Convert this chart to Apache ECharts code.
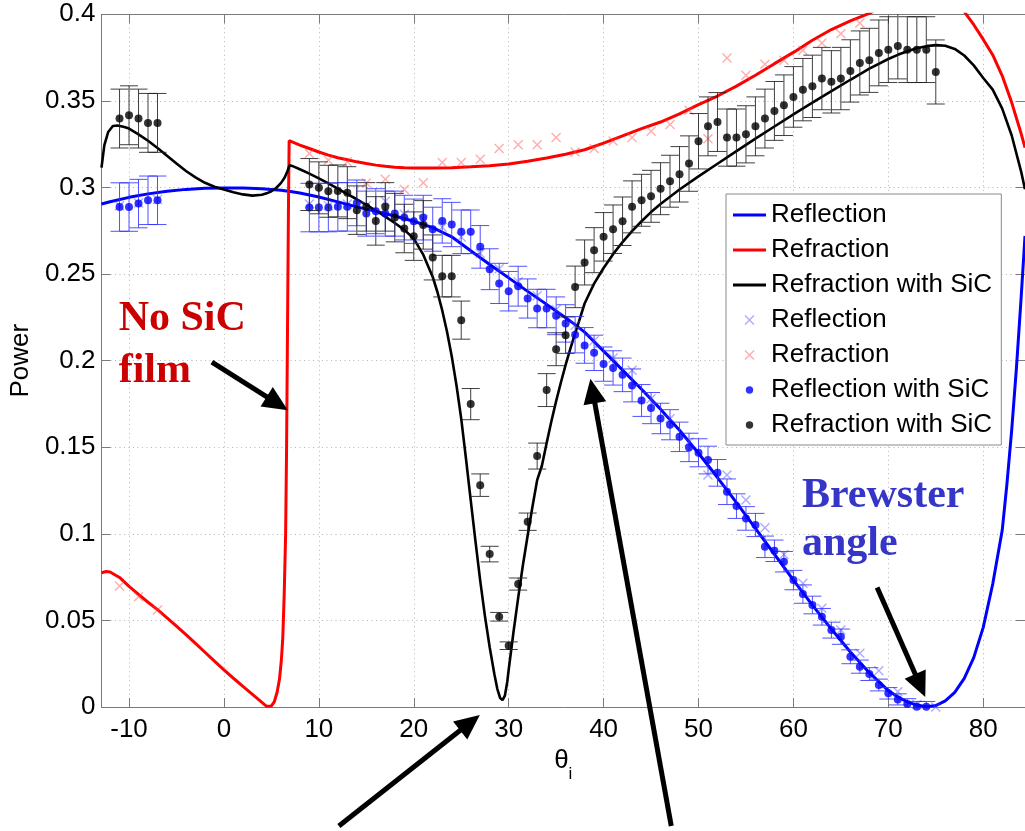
<!DOCTYPE html>
<html>
<head>
<meta charset="utf-8">
<script src="https://cdn.jsdelivr.net/npm/echarts@6/dist/echarts.min.js"></script>
<style>
  html, body { margin: 0; padding: 0; background: #ffffff; }
  #chart { width: 1025px; height: 831px; }
</style>
</head>
<body>
<div id="chart"></div>
<script>
// ---------- theory curves: [angle of incidence (deg), power] ----------
const reflectionCurve = [
  [-12.9,0.2905],[-12,0.2918],[-10,0.2943],[-8,0.2963],[-6,0.2978],[-4,0.2989],[-2,0.2995],
  [0,0.2997],[2,0.2997],[4,0.2993],[6,0.2984],[7,0.2977],[8,0.2968],[10,0.2945],[12,0.2917],
  [14,0.2888],[16,0.2862],[18,0.2835],[20,0.2805],[22,0.2768],[24,0.2715],[26,0.2635],
  [28,0.2555],[30,0.2478],[32,0.24],[34,0.2325],[36,0.2248],[37,0.2208],[38,0.2165],
  [40,0.2055],[42,0.1945],[44,0.1835],[46,0.172],[48,0.1598],[50,0.1465],[52,0.1325],
  [54,0.118],[56,0.1032],[58,0.0882],[60,0.0733],[62,0.0588],[64,0.045],[66,0.0318],
  [68,0.0198],[70,0.0095],[71,0.0058],[72,0.003],[73,0.0011],[74,0.0002],[75,0.0008],
  [76,0.0035],[77,0.0085],[78,0.0165],[79,0.0285],[80,0.046],[81,0.071],[82,0.102],
  [82.5,0.129],[83,0.16],[83.5,0.196],[84,0.237],[84.4,0.272]
];

const refractionCurve = [
  [-12.9,0.0775],[-12.4,0.0782],[-12,0.078],[-11,0.0748],[-10,0.0697],[-9,0.065],[-8,0.0605],
  [-7,0.0562],[-6,0.0515],[-5,0.0467],[-4,0.0418],[-3,0.0367],[-2,0.0316],[-1,0.0265],
  [0,0.0214],[1,0.0166],[2,0.0119],[3,0.0073],[4,0.0027],[4.5,0.0004],[5,0.0006],[5.3,0.003],
  [5.6,0.0085],[5.85,0.016],[6.05,0.027],[6.2,0.04],[6.35,0.065],[6.5,0.1],[6.6,0.15],
  [6.7,0.22],[6.8,0.29],[6.87,0.327],[7,0.3266],[8,0.3245],[9,0.3225],[10,0.3205],
  [11,0.3187],[12,0.3172],[13,0.316],[14,0.3148],[15,0.3138],[16,0.3129],[17,0.3122],
  [18,0.3117],[19,0.3114],[20,0.3113],[22,0.3112],[24,0.3114],[26,0.3119],[28,0.3126],
  [30,0.3136],[32,0.3151],[34,0.317],[36,0.3192],[38,0.3218],[40,0.3256],[42,0.3298],
  [44,0.334],[46,0.3378],[48,0.3425],[50,0.3478],[52,0.3528],[54,0.3585],[56,0.3648],
  [58,0.3715],[60,0.378],[62,0.385],[64,0.3912],[66,0.3962],[68,0.4005],[70,0.4065],
  [72,0.412],[74,0.415],[76,0.412],[77,0.407],[78,0.4015],[79,0.394],[80,0.3855],
  [81,0.3765],[82,0.3645],[83,0.349],[84,0.331],[84.4,0.323]
];

const refractionSiCCurve = [
  [-12.9,0.3115],[-12.6,0.3245],[-12.2,0.332],[-11.7,0.3355],[-11.2,0.3358],[-10.5,0.3349],
  [-10,0.334],[-9,0.3307],[-8,0.327],[-7,0.3228],[-6,0.3183],[-5,0.3138],[-4,0.3095],
  [-3,0.3058],[-2,0.3027],[-1,0.3004],[0,0.2988],[1,0.2972],[2,0.296],[3,0.2953],[4,0.2958],
  [4.5,0.2966],[5,0.2978],[5.5,0.2997],[6,0.3025],[6.4,0.3058],[6.7,0.3095],[6.9,0.3128],
  [7.3,0.3122],[8,0.3105],[9,0.308],[10,0.3053],[11,0.3024],[12,0.2993],[13,0.2962],
  [14,0.2932],[15,0.29],[16,0.2867],[17,0.2832],[18,0.2795],[19,0.2755],[20,0.2705],
  [21,0.2612],[22,0.2483],[22.5,0.2395],[23,0.229],[23.5,0.2168],[24,0.2025],[24.5,0.1858],
  [25,0.1665],[25.5,0.1435],[26,0.1195],[26.5,0.0958],[27,0.073],[27.5,0.0525],[28,0.0345],
  [28.5,0.0188],[28.8,0.0105],[29.1,0.0052],[29.35,0.004],[29.6,0.0065],[29.85,0.0145],
  [30,0.0215],[30.5,0.043],[31,0.063],[31.5,0.082],[32,0.099],[32.5,0.1155],[33,0.131],
  [33.5,0.1393],[34,0.1524],[34.5,0.165],[35,0.1766],[35.5,0.1874],[36,0.1976],[36.5,0.2069],
  [37,0.2157],[37.4,0.2225],[38,0.233],[39,0.2445],[40,0.2535],[41,0.2615],[42,0.2685],
  [43,0.2748],[44,0.2805],[45,0.2858],[46,0.2905],[48,0.2988],[50,0.3064],[52,0.3137],
  [54,0.321],[56,0.3282],[58,0.3352],[60,0.3422],[62,0.349],[64,0.3556],[66,0.3622],
  [68,0.3686],[70,0.3742],[71,0.3766],[72,0.3787],[73,0.3804],[74,0.3816],[75,0.3822],
  [76,0.3818],[77,0.38],[78,0.3762],[79,0.3705],[80,0.3632],[81,0.3565],[82,0.3455],
  [83,0.33],[84,0.309],[84.4,0.299]
];

// ---------- measurements without SiC: [angle, power] ----------
const reflectionData = [
  [-11,0.2895],[-9,0.291],[-7,0.293],
  [9,0.2905],[11,0.2895],[13,0.2905],[15,0.2895],[17,0.292],[19,0.2845],[21,0.2815],
  [23,0.277],[25,0.2714],[27,0.262],[29,0.253],[31,0.2455],[33,0.2375],[35,0.2295],
  [37,0.2205],[39,0.2115],[41,0.2015],[43,0.1945],[45,0.178],[47,0.1665],[49,0.153],
  [51,0.1339],[53,0.1339],[55,0.1195],[57,0.1035],[59,0.088],[61,0.0714],[63,0.057],
  [65,0.0444],[67,0.031],[69,0.0209],[71,0.0088],[73,0.0015],[75,0]
];

const refractionData = [
  [-11,0.0698],[-9,0.0637],[-7,0.056],
  [9,0.3196],[11,0.3157],[13,0.3148],[15,0.3026],[17,0.3048],[19,0.2988],[21,0.3028],
  [23,0.3144],[25,0.3144],[27,0.3163],[29,0.3225],[31,0.3247],[33,0.3247],[35,0.3288],
  [37,0.3205],[39,0.3225],[41,0.3269],[43,0.3288],[45,0.3325],[47,0.3363],[49,0.3446],
  [51,0.3282],[53,0.3748],[55,0.3648],[57,0.3711],[59,0.3735],[61,0.3792],[63,0.3834],
  [65,0.3888],[67,0.395]
];

// ---------- measurements with SiC film: [angle, power, error] ----------
const reflectionSiCData = [
  [-11,0.2887,0.014],[-10,0.2887,0.014],[-9,0.2907,0.014],[-8,0.2926,0.014],[-7,0.2926,0.014],
  [9,0.2884,0.014],[10,0.2884,0.014],[11,0.2884,0.014],[12,0.2888,0.014],[13,0.2888,0.014],
  [14,0.2911,0.0132],[15,0.2849,0.013],[16,0.2863,0.013],[17,0.2849,0.013],[18,0.2849,0.013],
  [19,0.2826,0.0129],[20,0.2805,0.0128],[21,0.2826,0.0129],[22,0.2759,0.0127],[23,0.2807,0.0128],
  [24,0.2786,0.0128],[25,0.2744,0.0126],[26,0.2744,0.0126],[27,0.2657,0.0123],[28,0.2528,0.0118],
  [29,0.2446,0.0116],[30,0.2401,0.0114],[31,0.243,0.0115],[32,0.2359,0.0113],[33,0.2301,0.0111],
  [34,0.2301,0.0111],[35,0.2259,0.0109],[36,0.2215,0.0108],[37,0.215,0.0105],[38,0.2088,0.0103],
  [39,0.2045,0.0102],[40,0.198,0.0099],[41,0.1958,0.0099],[42,0.1918,0.0097],[43,0.1857,0.0095],
  [44,0.177,0.0092],[45,0.1726,0.009],[46,0.1666,0.0088],[47,0.163,0.0087],[48,0.156,0.0085],
  [49,0.1499,0.0082],[50,0.1468,0.0081],[51,0.1426,0.008],[52,0.1352,0.0077],[53,0.1243,0.0074],
  [54,0.116,0.0071],[55,0.1089,0.0068],[56,0.1051,0.0067],[57,0.0925,0.0062],[58,0.0902,0.0062],
  [59,0.0839,0.0059],[60,0.0733,0.0056],[61,0.0652,0.0053],[62,0.0589,0.0051],[63,0.0521,0.0048],
  [64,0.0444,0.0046],[65,0.0406,0.0044],[66,0.029,0.004],[67,0.0233,0.0038],[68,0.019,0.0037],
  [69,0.0127,0.0034],[70,0.0079,0.0033],[71,0.0044,0.0032],[72,0.0017,0.0031],[73,0.0002,0.003],
  [74,0.0002,0.003]
];

const refractionSiCData = [
  [-11,0.3398,0.017],[-10,0.3417,0.017],[-9,0.3398,0.017],[-8,0.3373,0.017],[-7,0.3373,0.017],
  [9,0.3017,0.015],[10,0.2998,0.015],[11,0.2978,0.015],[12,0.298,0.015],[13,0.297,0.015],
  [14,0.2869,0.014],[15,0.2888,0.014],[16,0.2807,0.014],[17,0.2888,0.014],[18,0.2826,0.014],
  [19,0.2763,0.014],[20,0.2719,0.014],[21,0.2784,0.014],[22,0.2596,0.013],[23,0.2488,0.012],
  [24,0.2488,0.012],[25,0.2234,0.011],[26,0.1749,0.009],[27,0.1281,0.0065],[28,0.0883,0.0045],
  [29,0.0521,0.0025],[30,0.0354,0.0022],[31,0.071,0.0035],[32,0.107,0.005],[33,0.1449,0.0075],
  [34,0.183,0.0095],[35,0.2066,0.0095],[36,0.2147,0.0105],[37,0.2426,0.012],[38,0.2567,0.013],
  [39,0.2638,0.013],[40,0.2715,0.014],[41,0.2759,0.014],[42,0.2805,0.014],[43,0.2888,0.015],
  [44,0.2926,0.015],[45,0.2949,0.015],[46,0.2993,0.015],[47,0.3036,0.015],[48,0.3076,0.016],
  [49,0.3138,0.016],[50,0.3267,0.016],[51,0.3353,0.017],[52,0.3378,0.017],[53,0.3288,0.0165],
  [54,0.3288,0.0165],[55,0.3307,0.0165],[56,0.3353,0.017],[57,0.3398,0.017],[58,0.3442,0.017],
  [59,0.3475,0.0175],[60,0.3523,0.0175],[61,0.3565,0.018],[62,0.3584,0.018],[63,0.3629,0.018],
  [64,0.361,0.018],[65,0.3629,0.018],[66,0.3673,0.018],[67,0.3719,0.0185],[68,0.3734,0.0185],
  [69,0.3777,0.019],[70,0.3796,0.019],[71,0.3817,0.019],[72,0.3796,0.019],[73,0.3796,0.019],
  [74,0.3796,0.019],[75,0.3667,0.0185]
];

// ---------- annotations, in data coordinates ----------
const arrows = [
  { tail: [-1.27, 0.1991], tip: [6.73, 0.1714] },
  { tail: [12.11, -0.0687], tip: [26.96, -0.0046] },
  { tail: [47.13, -0.0687], tip: [38.61, 0.1896] },
  { tail: [68.82, 0.069], tip: [73.89, 0.0058] }
];
const notes = [
  { text: 'No SiC', at: [-11.09, 0.224], color: '#cc0000' },
  { text: 'film', at: [-11.09, 0.194], color: '#cc0000' },
  { text: 'Brewster', at: [60.9, 0.1218], color: '#3535c8' },
  { text: 'angle', at: [60.9, 0.0938], color: '#3535c8' }
];

// ---------- drawing ----------
const FONT = '"Liberation Sans", Arial, Helvetica, sans-serif';
const CROSS = 'path://M0,10L10,0L50,40L90,0L100,10L60,50L100,90L90,100L50,60L10,100L0,90L40,50Z';
const DOT_ICON = 'path://M0,0M10,10M1.3,5A3.7,3.7,0,1,0,8.7,5A3.7,3.7,0,1,0,1.3,5Z';
const LINE_ICON = 'path://M0,0L33,0L33,3L0,3Z';

function errorBars(color) {
  return function (params, api) {
    const x = api.value(0), y = api.value(1), e = api.value(2);
    const hi = api.coord([x, y + e]);
    const lo = api.coord([x, y - e]);
    const cap = 9;
    const style = { stroke: color, lineWidth: 1, fill: null };
    return {
      type: 'group',
      children: [
        { type: 'line', shape: { x1: hi[0], y1: hi[1], x2: lo[0], y2: lo[1] }, style: style },
        { type: 'line', shape: { x1: hi[0] - cap, y1: hi[1], x2: hi[0] + cap, y2: hi[1] }, style: style },
        { type: 'line', shape: { x1: lo[0] - cap, y1: lo[1], x2: lo[0] + cap, y2: lo[1] }, style: style }
      ]
    };
  };
}

const axisGray = '#7a7a7a';
const gridDots = { color: '#b4b4b4', width: 1, type: [1, 3.5] };
const xCommon = { type: 'value', min: -12.9, max: 84.4, splitNumber: 10 };
const yCommon = { type: 'value', min: 0, max: 0.4, interval: 0.05 };

const option = {
  animation: false,
  backgroundColor: '#ffffff',
  textStyle: { fontFamily: FONT },
  grid: { left: 95.7, top: 14.3, width: 930.9, height: 692.7, containLabel: false },
  xAxis: [
    Object.assign({}, xCommon, {
      position: 'bottom',
      name: '{t|θ}{s|i}',
      nameLocation: 'middle',
      nameGap: 36,
      nameTextStyle: {
        color: '#000',
        rich: {
          t: { fontSize: 26, fontFamily: FONT, color: '#000', verticalAlign: 'bottom', padding: [0, 0, 9, 0] },
          s: { fontSize: 17, fontFamily: FONT, color: '#000', verticalAlign: 'bottom' }
        }
      },
      axisLine: { show: true, onZero: false, lineStyle: { color: axisGray, width: 1 } },
      axisTick: { show: true, inside: true, length: 9, lineStyle: { color: axisGray } },
      axisLabel: { fontSize: 26, color: '#000', margin: 10, showMinLabel: false, showMaxLabel: false, fontFamily: FONT },
      splitLine: { show: true, lineStyle: gridDots }
    }),
    Object.assign({}, xCommon, {
      position: 'top',
      axisLine: { show: true, onZero: false, lineStyle: { color: axisGray, width: 1 } },
      axisTick: { show: true, inside: true, length: 9, lineStyle: { color: axisGray } },
      axisLabel: { show: false },
      splitLine: { show: false }
    })
  ],
  yAxis: [
    Object.assign({}, yCommon, {
      position: 'left',
      name: 'Power',
      nameLocation: 'middle',
      nameGap: 58,
      nameRotate: 90,
      nameTextStyle: { fontSize: 26, color: '#000', fontFamily: FONT },
      axisLine: { show: true, onZero: false, lineStyle: { color: axisGray, width: 1 } },
      axisTick: { show: true, inside: true, length: 9, lineStyle: { color: axisGray } },
      axisLabel: { fontSize: 26, color: '#000', margin: 6, fontFamily: FONT },
      splitLine: { show: true, lineStyle: gridDots }
    }),
    Object.assign({}, yCommon, {
      position: 'right',
      axisLine: { show: true, onZero: false, lineStyle: { color: axisGray, width: 1 } },
      axisTick: { show: true, inside: true, length: 9, lineStyle: { color: axisGray } },
      axisLabel: { show: false },
      splitLine: { show: false }
    })
  ],
  legend: {
    orient: 'vertical',
    left: 726,
    top: 194,
    padding: [8, 2, 7, 7],
    itemGap: 9,
    itemWidth: 33,
    itemHeight: 10,
    backgroundColor: '#ffffff',
    borderColor: '#8a8a8a',
    borderWidth: 1,
    selectedMode: false,
    textStyle: { fontSize: 26, lineHeight: 26, color: '#000', fontFamily: FONT },
    data: [
      { name: 'Reflection', icon: LINE_ICON },
      { name: 'Refraction', icon: LINE_ICON },
      { name: 'Refraction with SiC', icon: LINE_ICON },
      { name: 'Reflection ', icon: CROSS },
      { name: 'Refraction ', icon: CROSS },
      { name: 'Reflection with SiC', icon: DOT_ICON },
      { name: 'Refraction with SiC ', icon: DOT_ICON }
    ]
  },
  series: [
    {
      name: 'Reflection', type: 'line', data: reflectionCurve, showSymbol: false, symbol: 'none',
      lineStyle: { color: '#0000ff', width: 3 }, itemStyle: { color: '#0000ff' }, z: 2, clip: true
    },
    {
      name: 'Refraction', type: 'line', data: refractionCurve, showSymbol: false, symbol: 'none',
      lineStyle: { color: '#ff0000', width: 3 }, itemStyle: { color: '#ff0000' }, z: 2, clip: true
    },
    {
      name: 'Refraction with SiC', type: 'line', data: refractionSiCCurve, showSymbol: false, symbol: 'none',
      lineStyle: { color: '#000000', width: 2.6 }, itemStyle: { color: '#000000' }, z: 2, clip: true
    },
    {
      name: 'Reflection ', type: 'scatter', data: reflectionData, symbol: CROSS, symbolSize: 10,
      itemStyle: { color: 'rgba(70,70,255,0.55)' }, z: 3, clip: true
    },
    {
      name: 'Refraction ', type: 'scatter', data: refractionData, symbol: CROSS, symbolSize: 10,
      itemStyle: { color: 'rgba(255,70,70,0.55)' }, z: 3, clip: true
    },
    {
      name: 'reflection-sic-errors', type: 'custom', data: reflectionSiCData,
      encode: { x: 0, y: 1 }, renderItem: errorBars('rgba(50,50,255,0.85)'), z: 4, clip: true, silent: true
    },
    {
      name: 'Reflection with SiC', type: 'scatter', data: reflectionSiCData.map(d => [d[0], d[1]]),
      symbol: 'circle', symbolSize: 8, itemStyle: { color: '#0000ff' }, z: 4, clip: true
    },
    {
      name: 'refraction-sic-errors', type: 'custom', data: refractionSiCData,
      encode: { x: 0, y: 1 }, renderItem: errorBars('rgba(30,30,30,0.85)'), z: 5, clip: true, silent: true
    },
    {
      name: 'Refraction with SiC ', type: 'scatter', data: refractionSiCData.map(d => [d[0], d[1]]),
      symbol: 'circle', symbolSize: 8, itemStyle: { color: '#000000' }, z: 5, clip: true
    }
  ]
};

const chart = echarts.init(document.getElementById('chart'), null, { renderer: 'canvas' });
chart.setOption(option);

// Arrows and captions placed through the axis scales
const toPx = p => chart.convertToPixel({ xAxisIndex: 0, yAxisIndex: 0 }, p);
const graphics = [];
arrows.forEach(a => {
  const t = toPx(a.tip), f = toPx(a.tail);
  const dx = t[0] - f[0], dy = t[1] - f[1];
  const len = Math.hypot(dx, dy);
  const ux = dx / len, uy = dy / len;
  const headLen = 25, headHalf = 11.5;
  const bx = t[0] - ux * headLen, by = t[1] - uy * headLen;
  graphics.push({
    type: 'line', z: 100,
    shape: { x1: f[0], y1: f[1], x2: bx + ux * 3, y2: by + uy * 3 },
    style: { stroke: '#000000', lineWidth: 5 }
  });
  graphics.push({
    type: 'polygon', z: 100,
    shape: { points: [[t[0], t[1]], [bx - uy * headHalf, by + ux * headHalf], [bx + uy * headHalf, by - ux * headHalf]] },
    style: { fill: '#000000' }
  });
});
notes.forEach(n => {
  const p = toPx(n.at);
  graphics.push({
    type: 'text', z: 100, x: p[0], y: p[1],
    style: {
      text: n.text, fill: n.color, align: 'left', verticalAlign: 'middle',
      font: 'bold 42px "Liberation Serif", "Times New Roman", serif'
    }
  });
});
chart.setOption({ graphic: graphics });
</script>
</body>
</html>
